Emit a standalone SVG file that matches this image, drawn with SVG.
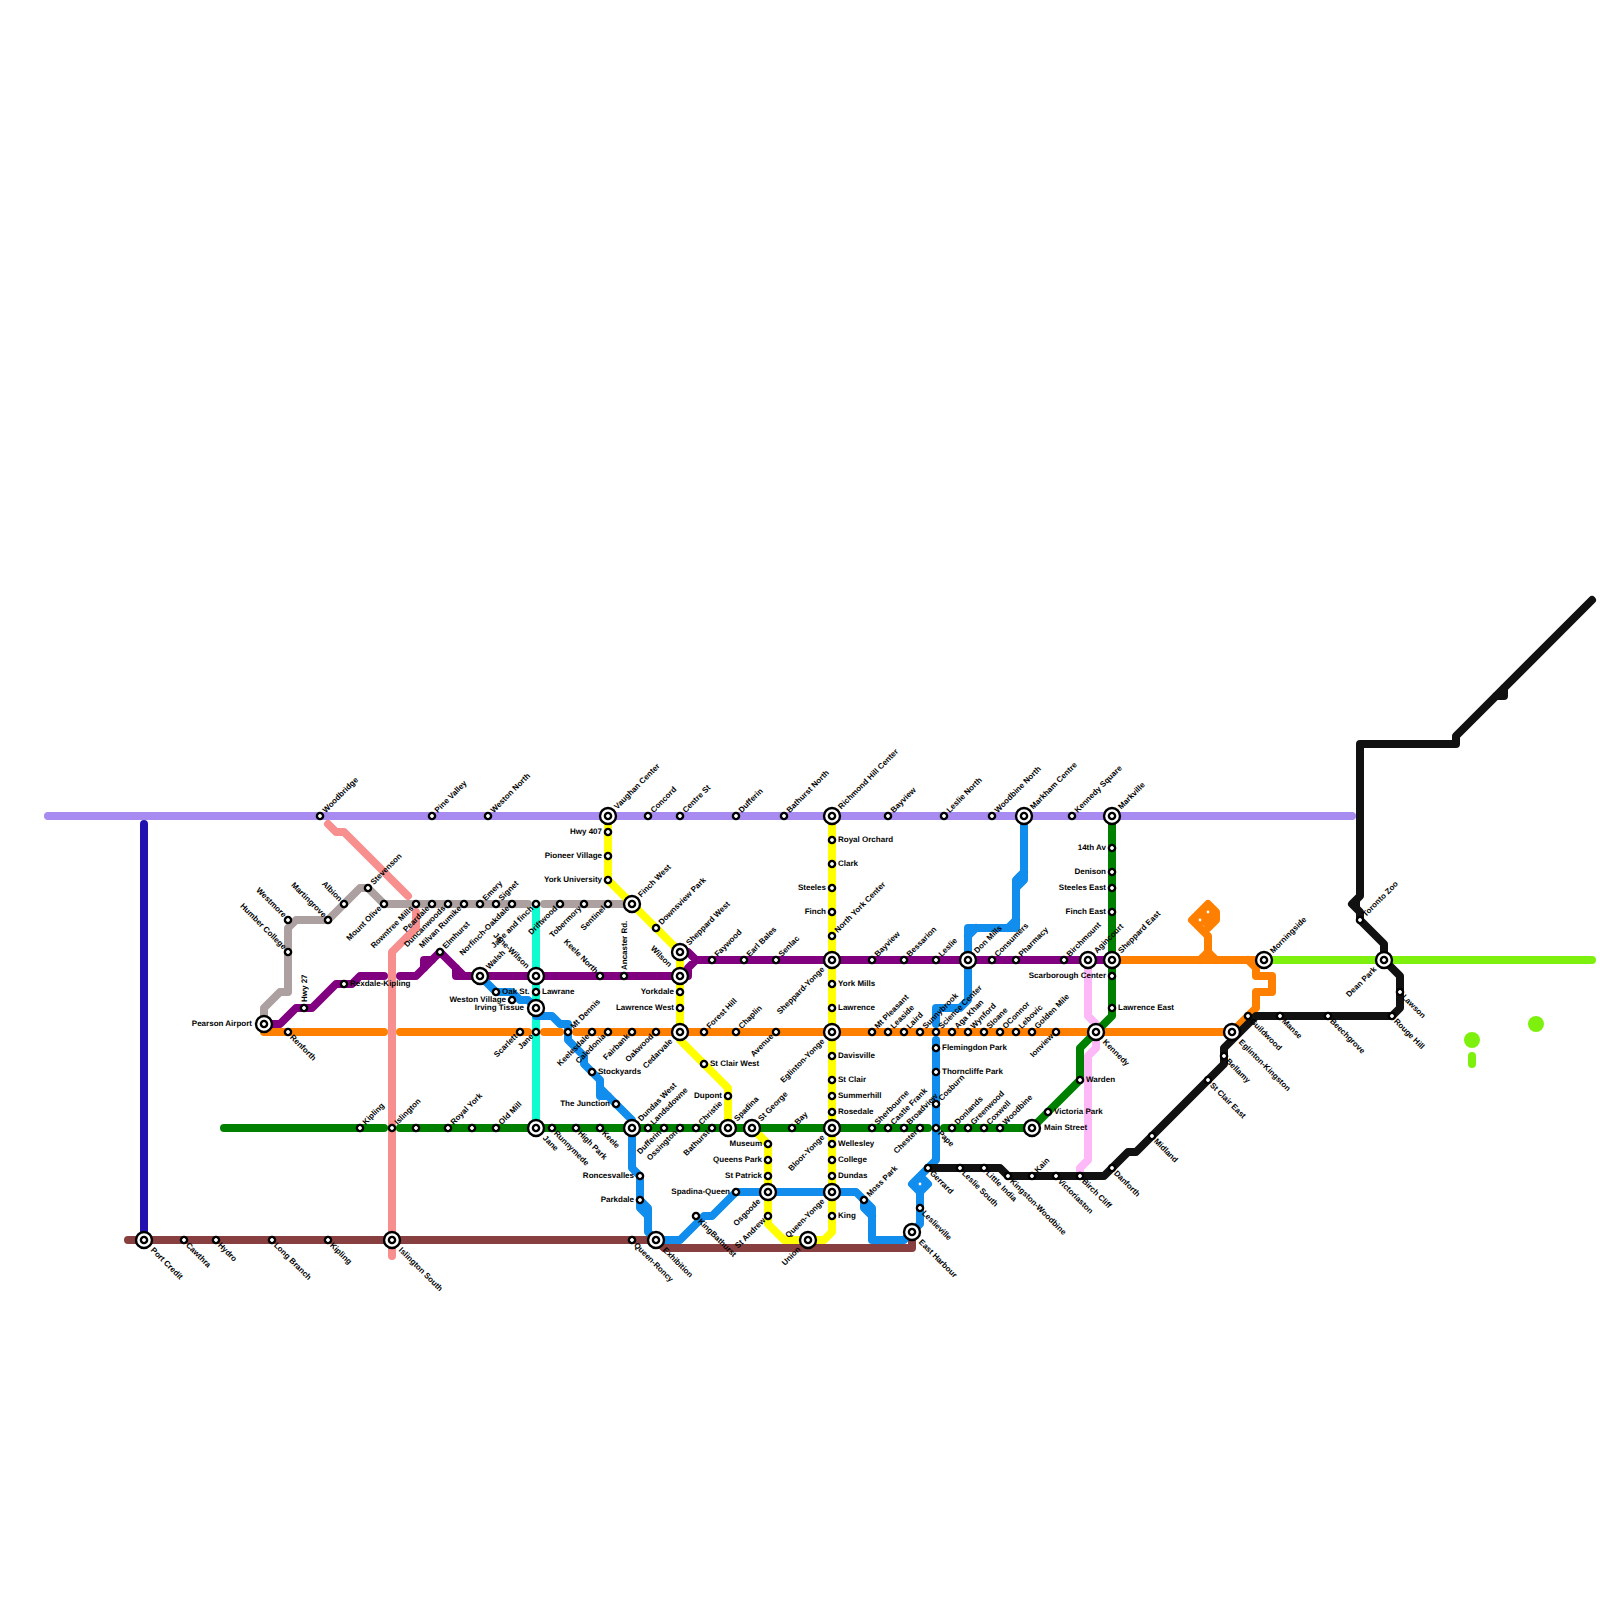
<svg xmlns="http://www.w3.org/2000/svg" width="1600" height="1600" viewBox="0 0 1600 1600">
<style>
.l{fill:none;stroke-width:8;stroke-linecap:round;stroke-linejoin:round}
.t{font:bold 8px "Liberation Sans",Arial,sans-serif;fill:#000;text-rendering:geometricPrecision}
.e{text-anchor:end}
.ring{fill:#fff;stroke:#000;stroke-width:2.4}
.lav{stroke:#a78bf0}.ind{stroke:#2212b0}.bro{stroke:#883f3f}.tea{stroke:#0ffbd0}.sal{stroke:#f78f8f}.pnk{stroke:#fdb8f8}.gry{stroke:#aca0a0}.pur{stroke:#800080}.ora{stroke:#ff8000}.grn{stroke:#008000}.yel{stroke:#ffff00}.blu{stroke:#118ded}.blk{stroke:#111}.lim{stroke:#7ef00e}
</style>
<defs>
<circle id="s" class="ring" r="3.1"/>
<g id="x"><circle class="ring" r="8"/><circle class="ring" r="3.1"/></g>
</defs>
<g id="connectors">
<path class="l lav" d="M48 816H1352"/>
<path class="l ind" d="M144 824V1240"/>
<path class="l lim" d="M1264 960H1592M1472 1056V1064"/>
<path class="l sal" d="M328 824L336 832H344L408 896M416 912V928L392 952V1256"/>
<path class="l tea" d="M536 904V1128"/>
<path class="l pnk" d="M1088 960V1016L1096 1024V1048L1088 1056V1160L1080 1168V1176"/>
<path class="l gry" d="M264 1024V1008L280 992H288V928L296 920H328L360 888H368L384 904H528M544 904H632"/>
<path class="l bro" d="M128 1240H656L664 1248H912V1232"/>
<path class="l yel" d="M608 816V880L680 952V1040L728 1088V1128"/>
<path class="l yel" d="M752 1128L768 1144V1224L784 1240H824L832 1232V816"/>
<path class="l pur" d="M264 1024H280L296 1008H312L336 984H352L360 976H384M400 976H416L440 952L464 976H688V968L696 960L688 952H680M696 960H1112M424 968V960H432M456 968V976H464"/>
<path class="l ora" d="M264 1032H384M400 1032H528M544 1032H560M576 1032H1232L1256 1008V992H1272V976H1256V968L1248 960M1112 960H1264M1200 960L1208 952L1216 960M1208 960V936L1192 920L1208 904L1216 912V920L1208 928"/>
<path d="M1192 920L1208 904L1216 912V920L1208 928Z" fill="#ff8000"/>
<path class="l grn" d="M224 1128H384M400 1128H928M944 1128H1032L1080 1080V1048L1112 1016V816"/>
<path class="l blu" d="M1024 816V880L1016 888V928H968V1000L960 1008H936V1024M936 1040V1160L912 1184L920 1192V1224L912 1232M920 1176L928 1184L920 1192M1016 920L1008 928M976 928L968 936M1024 872L1016 880V888"/>
<path d="M920 1176L928 1184L920 1192L912 1184Z" fill="#118ded"/>
<path class="l blu" d="M480 976L496 992H512L520 1000H528L536 1008V1016H552L560 1024H568V1040L584 1056V1064L600 1080V1088L632 1120V1168L640 1176V1208L648 1216V1232L656 1240H680L704 1216H712L736 1192H856L864 1200L872 1208V1240H904L912 1232M864 1200V1208L872 1216M600 1088V1096H608M640 1200L648 1208V1216"/>
<path class="l blk" d="M928 1168H1000L1008 1176H1104L1128 1152H1136L1224 1064V1048L1256 1016H1392L1400 1008V976L1384 960V944L1360 920V912L1352 904L1360 896V744H1456V736L1592 600M1496 696H1504V688"/>
<path d="M1360 896L1352 904L1360 912Z" fill="#111"/>
<circle cx="1472" cy="1040" r="8" fill="#7ef00e"/>
<circle cx="1536" cy="1024" r="8" fill="#7ef00e"/>
<circle cx="1208" cy="912" r="1.4" fill="#fff"/>
<circle cx="1200" cy="920" r="1.4" fill="#fff"/>
<circle cx="920" cy="1184" r="1.4" fill="#fff"/>
</g>
<g id="stations">
<g id="n1"><use href="#s" x="320" y="816"/><text class="t" transform="translate(320 816) rotate(-45)" x="6" y="2">Woodbridge</text></g>
<g id="n2"><use href="#s" x="432" y="816"/><text class="t" transform="translate(432 816) rotate(-45)" x="6" y="2">Pine Valley</text></g>
<g id="n3"><use href="#s" x="488" y="816"/><text class="t" transform="translate(488 816) rotate(-45)" x="6" y="2">Weston North</text></g>
<g id="n4"><use href="#x" x="608" y="816"/><text class="t" transform="translate(608 816) rotate(-45)" x="11" y="2">Vaughan Center</text></g>
<g id="n5"><use href="#s" x="648" y="816"/><text class="t" transform="translate(648 816) rotate(-45)" x="6" y="2">Concord</text></g>
<g id="n6"><use href="#s" x="680" y="816"/><text class="t" transform="translate(680 816) rotate(-45)" x="6" y="2">Centre St</text></g>
<g id="n7"><use href="#s" x="736" y="816"/><text class="t" transform="translate(736 816) rotate(-45)" x="6" y="2">Dufferin</text></g>
<g id="n8"><use href="#s" x="784" y="816"/><text class="t" transform="translate(784 816) rotate(-45)" x="6" y="2">Bathurst North</text></g>
<g id="n9"><use href="#x" x="832" y="816"/><text class="t" transform="translate(832 816) rotate(-45)" x="11" y="2">Richmond Hill Center</text></g>
<g id="n10"><use href="#s" x="888" y="816"/><text class="t" transform="translate(888 816) rotate(-45)" x="6" y="2">Bayview</text></g>
<g id="n11"><use href="#s" x="944" y="816"/><text class="t" transform="translate(944 816) rotate(-45)" x="6" y="2">Leslie North</text></g>
<g id="n12"><use href="#s" x="992" y="816"/><text class="t" transform="translate(992 816) rotate(-45)" x="6" y="2">Woodbine North</text></g>
<g id="n13"><use href="#x" x="1024" y="816"/><text class="t" transform="translate(1024 816) rotate(-45)" x="11" y="2">Markham Centre</text></g>
<g id="n14"><use href="#s" x="1072" y="816"/><text class="t" transform="translate(1072 816) rotate(-45)" x="6" y="2">Kennedy Square</text></g>
<g id="n15"><use href="#x" x="1112" y="816"/><text class="t" transform="translate(1112 816) rotate(-45)" x="11" y="2">Markville</text></g>
<g id="n16"><use href="#s" x="288" y="920"/><text class="t e" transform="translate(288 920) rotate(45)" x="-5" y="2">Westmore</text></g>
<g id="n17"><use href="#s" x="288" y="952"/><text class="t e" transform="translate(288 952) rotate(45)" x="-5" y="2">Humber College</text></g>
<g id="n18"><use href="#s" x="328" y="920"/><text class="t e" transform="translate(328 920) rotate(45)" x="-5" y="2">Martingrove</text></g>
<g id="n19"><use href="#s" x="344" y="904"/><text class="t e" transform="translate(344 904) rotate(45)" x="-5" y="2">Albion</text></g>
<g id="n20"><use href="#s" x="368" y="888"/><text class="t" transform="translate(368 888) rotate(-45)" x="6" y="2">Stevenson</text></g>
<g id="n21"><use href="#s" x="384" y="904"/><text class="t e" transform="translate(384 904) rotate(-45)" x="-5" y="2">Mount Olive</text></g>
<g id="n22"><use href="#s" x="416" y="904"/><text class="t e" transform="translate(416 904) rotate(-45)" x="-5" y="2">Rowntree Mills</text></g>
<g id="n23"><use href="#s" x="432" y="904"/><text class="t e" transform="translate(432 904) rotate(-45)" x="-5" y="2">Peardale</text></g>
<g id="n24"><use href="#s" x="448" y="904"/><text class="t e" transform="translate(448 904) rotate(-45)" x="-5" y="2">Duncanwoods</text></g>
<g id="n25"><use href="#s" x="464" y="904"/><text class="t e" transform="translate(464 904) rotate(-45)" x="-5" y="2">Milvan Rumike</text></g>
<g id="n26"><use href="#s" x="480" y="904"/><text class="t" transform="translate(480 904) rotate(-45)" x="6" y="2">Emery</text></g>
<g id="n27"><use href="#s" x="496" y="904"/><text class="t" transform="translate(496 904) rotate(-45)" x="6" y="2">Signet</text></g>
<g id="n28"><use href="#s" x="512" y="904"/><text class="t e" transform="translate(512 904) rotate(-45)" x="-5" y="2">Norfinch-Oakdale</text></g>
<g id="n29"><use href="#s" x="536" y="904"/><text class="t e" transform="translate(536 904) rotate(-45)" x="-5" y="2">Jane and finch</text></g>
<g id="n30"><use href="#s" x="560" y="904"/><text class="t e" transform="translate(560 904) rotate(-45)" x="-5" y="2">Driftwood</text></g>
<g id="n31"><use href="#s" x="584" y="904"/><text class="t e" transform="translate(584 904) rotate(-45)" x="-5" y="2">Tobermory</text></g>
<g id="n32"><use href="#s" x="608" y="904"/><text class="t e" transform="translate(608 904) rotate(-45)" x="-5" y="2">Sentinel</text></g>
<g id="n33"><use href="#x" x="632" y="904"/><text class="t" transform="translate(632 904) rotate(-45)" x="11" y="2">Finch West</text></g>
<g id="n34"><use href="#s" x="608" y="832"/><text class="t e" x="602" y="834">Hwy 407</text></g>
<g id="n35"><use href="#s" x="608" y="856"/><text class="t e" x="602" y="858">Pioneer Village</text></g>
<g id="n36"><use href="#s" x="608" y="880"/><text class="t e" x="602" y="882">York University</text></g>
<g id="n37"><use href="#s" x="656" y="928"/><text class="t" transform="translate(656 928) rotate(-45)" x="6" y="2">Downsview Park</text></g>
<g id="n38"><use href="#x" x="680" y="952"/><text class="t" transform="translate(680 952) rotate(-45)" x="11" y="2">Sheppard West</text></g>
<g id="n39"><use href="#x" x="680" y="976"/><text class="t e" transform="translate(680 976) rotate(45)" x="-14" y="2">Wilson</text></g>
<g id="n40"><use href="#s" x="680" y="992"/><text class="t e" x="674" y="994">Yorkdale</text></g>
<g id="n41"><use href="#s" x="680" y="1008"/><text class="t e" x="674" y="1010">Lawrence West</text></g>
<g id="n42"><use href="#x" x="680" y="1032"/><text class="t e" transform="translate(680 1032) rotate(-45)" x="-12" y="2">Cedarvale</text></g>
<g id="n43"><use href="#s" x="704" y="1064"/><text class="t" x="710" y="1066">St Clair West</text></g>
<g id="n44"><use href="#s" x="728" y="1096"/><text class="t e" x="722" y="1098">Dupont</text></g>
<g id="n45"><use href="#x" x="728" y="1128"/><text class="t" transform="translate(728 1128) rotate(-45)" x="11" y="2">Spadina</text></g>
<g id="n46"><use href="#x" x="752" y="1128"/><text class="t" transform="translate(752 1128) rotate(-45)" x="11" y="2">St George</text></g>
<g id="n47"><use href="#s" x="768" y="1144"/><text class="t e" x="762" y="1146">Museum</text></g>
<g id="n48"><use href="#s" x="768" y="1160"/><text class="t e" x="762" y="1162">Queens Park</text></g>
<g id="n49"><use href="#s" x="768" y="1176"/><text class="t e" x="762" y="1178">St Patrick</text></g>
<g id="n50"><use href="#x" x="768" y="1192"/><text class="t e" transform="translate(768 1192) rotate(-45)" x="-12" y="2">Osgoode</text></g>
<g id="n51"><use href="#s" x="768" y="1216"/><text class="t e" transform="translate(768 1216) rotate(-45)" x="-5" y="2">St Andrew</text></g>
<g id="n52"><use href="#x" x="808" y="1240"/><text class="t e" transform="translate(808 1240) rotate(-45)" x="-12" y="2">Union</text></g>
<g id="n53"><use href="#x" x="832" y="1192"/><text class="t e" transform="translate(832 1192) rotate(-45)" x="-12" y="2">Queen-Yonge</text></g>
<g id="n54"><use href="#s" x="832" y="1216"/><text class="t" x="838" y="1218">King</text></g>
<g id="n55"><use href="#s" x="832" y="840"/><text class="t" x="838" y="842">Royal Orchard</text></g>
<g id="n56"><use href="#s" x="832" y="864"/><text class="t" x="838" y="866">Clark</text></g>
<g id="n57"><use href="#s" x="832" y="888"/><text class="t e" x="826" y="890">Steeles</text></g>
<g id="n58"><use href="#s" x="832" y="912"/><text class="t e" x="826" y="914">Finch</text></g>
<g id="n59"><use href="#s" x="832" y="936"/><text class="t" transform="translate(832 936) rotate(-45)" x="6" y="2">North York Center</text></g>
<g id="n60"><use href="#x" x="832" y="960"/><text class="t e" transform="translate(832 960) rotate(-45)" x="-12" y="2">Sheppard-Yonge</text></g>
<g id="n61"><use href="#s" x="832" y="984"/><text class="t" x="838" y="986">York Mills</text></g>
<g id="n62"><use href="#s" x="832" y="1008"/><text class="t" x="838" y="1010">Lawrence</text></g>
<g id="n63"><use href="#x" x="832" y="1032"/><text class="t e" transform="translate(832 1032) rotate(-45)" x="-12" y="2">Eglinton-Yonge</text></g>
<g id="n64"><use href="#s" x="832" y="1056"/><text class="t" x="838" y="1058">Davisville</text></g>
<g id="n65"><use href="#s" x="832" y="1080"/><text class="t" x="838" y="1082">St Clair</text></g>
<g id="n66"><use href="#s" x="832" y="1096"/><text class="t" x="838" y="1098">Summerhill</text></g>
<g id="n67"><use href="#s" x="832" y="1112"/><text class="t" x="838" y="1114">Rosedale</text></g>
<g id="n68"><use href="#x" x="832" y="1128"/><text class="t e" transform="translate(832 1128) rotate(-45)" x="-12" y="2">Bloor-Yonge</text></g>
<g id="n69"><use href="#s" x="832" y="1144"/><text class="t" x="838" y="1146">Wellesley</text></g>
<g id="n70"><use href="#s" x="832" y="1160"/><text class="t" x="838" y="1162">College</text></g>
<g id="n71"><use href="#s" x="832" y="1176"/><text class="t" x="838" y="1178">Dundas</text></g>
<g id="n72"><use href="#x" x="264" y="1024"/><text class="t e" x="252" y="1026">Pearson Airport</text></g>
<g id="n73"><use href="#s" x="304" y="1008"/><text class="t" transform="translate(304 1008) rotate(-90)" x="6" y="3">Hwy 27</text></g>
<g id="n74"><use href="#s" x="344" y="984"/><text class="t" x="350" y="986">Rexdale-Kipling</text></g>
<g id="n75"><use href="#s" x="440" y="952"/><text class="t" transform="translate(440 952) rotate(-45)" x="6" y="2">Elmhurst</text></g>
<g id="n76"><use href="#x" x="480" y="976"/><text class="t" transform="translate(480 976) rotate(-45)" x="11" y="2">Walsh</text></g>
<g id="n77"><use href="#x" x="536" y="976"/><text class="t e" transform="translate(536 976) rotate(45)" x="-12" y="2">Jane-Wilson</text></g>
<g id="n78"><use href="#s" x="600" y="976"/><text class="t e" transform="translate(600 976) rotate(45)" x="-5" y="2">Keele North</text></g>
<g id="n79"><use href="#s" x="624" y="976"/><text class="t" transform="translate(624 976) rotate(-90)" x="6" y="3">Ancaster Rd.</text></g>
<g id="n80"><use href="#s" x="712" y="960"/><text class="t" transform="translate(712 960) rotate(-45)" x="6" y="2">Faywood</text></g>
<g id="n81"><use href="#s" x="744" y="960"/><text class="t" transform="translate(744 960) rotate(-45)" x="6" y="2">Earl Bales</text></g>
<g id="n82"><use href="#s" x="776" y="960"/><text class="t" transform="translate(776 960) rotate(-45)" x="6" y="2">Senlac</text></g>
<g id="n83"><use href="#s" x="872" y="960"/><text class="t" transform="translate(872 960) rotate(-45)" x="6" y="2">Bayview</text></g>
<g id="n84"><use href="#s" x="904" y="960"/><text class="t" transform="translate(904 960) rotate(-45)" x="6" y="2">Bessarion</text></g>
<g id="n85"><use href="#s" x="936" y="960"/><text class="t" transform="translate(936 960) rotate(-45)" x="6" y="2">Leslie</text></g>
<g id="n86"><use href="#x" x="968" y="960"/><text class="t" transform="translate(968 960) rotate(-45)" x="11" y="2">Don Mills</text></g>
<g id="n87"><use href="#s" x="992" y="960"/><text class="t" transform="translate(992 960) rotate(-45)" x="6" y="2">Consumers</text></g>
<g id="n88"><use href="#s" x="1016" y="960"/><text class="t" transform="translate(1016 960) rotate(-45)" x="6" y="2">Pharmacy</text></g>
<g id="n89"><use href="#s" x="1064" y="960"/><text class="t" transform="translate(1064 960) rotate(-45)" x="6" y="2">Birchmount</text></g>
<g id="n90"><use href="#x" x="1088" y="960"/><text class="t" transform="translate(1088 960) rotate(-45)" x="11" y="2">Agincourt</text></g>
<g id="n91"><use href="#x" x="1112" y="960"/><text class="t" transform="translate(1112 960) rotate(-45)" x="11" y="2">Sheppard East</text></g>
<g id="n92"><use href="#s" x="1112" y="848"/><text class="t e" x="1106" y="850">14th Av</text></g>
<g id="n93"><use href="#s" x="1112" y="872"/><text class="t e" x="1106" y="874">Denison</text></g>
<g id="n94"><use href="#s" x="1112" y="888"/><text class="t e" x="1106" y="890">Steeles East</text></g>
<g id="n95"><use href="#s" x="1112" y="912"/><text class="t e" x="1106" y="914">Finch East</text></g>
<g id="n96"><use href="#s" x="1112" y="976"/><text class="t e" x="1106" y="978">Scarborough Center</text></g>
<g id="n97"><use href="#s" x="1112" y="1008"/><text class="t" x="1118" y="1010">Lawrence East</text></g>
<g id="n98"><use href="#s" x="288" y="1032"/><text class="t" transform="translate(288 1032) rotate(45)" x="5" y="3">Renforth</text></g>
<g id="n99"><use href="#s" x="520" y="1032"/><text class="t e" transform="translate(520 1032) rotate(-45)" x="-5" y="2">Scarlett</text></g>
<g id="n100"><use href="#s" x="536" y="1032"/><text class="t e" transform="translate(536 1032) rotate(-45)" x="-5" y="2">Jane</text></g>
<g id="n101"><use href="#s" x="568" y="1032"/><text class="t" transform="translate(568 1032) rotate(-45)" x="6" y="2">Mt Dennis</text></g>
<g id="n102"><use href="#s" x="592" y="1032"/><text class="t e" transform="translate(592 1032) rotate(-45)" x="-5" y="2">Keelesdale</text></g>
<g id="n103"><use href="#s" x="608" y="1032"/><text class="t e" transform="translate(608 1032) rotate(-45)" x="-5" y="2">Caledonia</text></g>
<g id="n104"><use href="#s" x="632" y="1032"/><text class="t e" transform="translate(632 1032) rotate(-45)" x="-5" y="2">Fairbank</text></g>
<g id="n105"><use href="#s" x="656" y="1032"/><text class="t e" transform="translate(656 1032) rotate(-45)" x="-5" y="2">Oakwood</text></g>
<g id="n106"><use href="#s" x="704" y="1032"/><text class="t" transform="translate(704 1032) rotate(-45)" x="6" y="2">Forest Hill</text></g>
<g id="n107"><use href="#s" x="736" y="1032"/><text class="t" transform="translate(736 1032) rotate(-45)" x="6" y="2">Chaplin</text></g>
<g id="n108"><use href="#s" x="776" y="1032"/><text class="t e" transform="translate(776 1032) rotate(-45)" x="-5" y="2">Avenue</text></g>
<g id="n109"><use href="#s" x="872" y="1032"/><text class="t" transform="translate(872 1032) rotate(-45)" x="6" y="2">Mt Pleasant</text></g>
<g id="n110"><use href="#s" x="888" y="1032"/><text class="t" transform="translate(888 1032) rotate(-45)" x="6" y="2">Leaside</text></g>
<g id="n111"><use href="#s" x="904" y="1032"/><text class="t" transform="translate(904 1032) rotate(-45)" x="6" y="2">Laird</text></g>
<g id="n112"><use href="#s" x="920" y="1032"/><text class="t" transform="translate(920 1032) rotate(-45)" x="6" y="2">Sunnybrook</text></g>
<g id="n113"><use href="#s" x="936" y="1032"/><text class="t" transform="translate(936 1032) rotate(-45)" x="6" y="2">Science Center</text></g>
<g id="n114"><use href="#s" x="952" y="1032"/><text class="t" transform="translate(952 1032) rotate(-45)" x="6" y="2">Aga Khan</text></g>
<g id="n115"><use href="#s" x="968" y="1032"/><text class="t" transform="translate(968 1032) rotate(-45)" x="6" y="2">Wynford</text></g>
<g id="n116"><use href="#s" x="984" y="1032"/><text class="t" transform="translate(984 1032) rotate(-45)" x="6" y="2">Sloane</text></g>
<g id="n117"><use href="#s" x="1000" y="1032"/><text class="t" transform="translate(1000 1032) rotate(-45)" x="6" y="2">OConnor</text></g>
<g id="n118"><use href="#s" x="1016" y="1032"/><text class="t" transform="translate(1016 1032) rotate(-45)" x="6" y="2">Lebovic</text></g>
<g id="n119"><use href="#s" x="1032" y="1032"/><text class="t" transform="translate(1032 1032) rotate(-45)" x="6" y="2">Golden Mile</text></g>
<g id="n120"><use href="#s" x="1056" y="1032"/><text class="t e" transform="translate(1056 1032) rotate(-45)" x="-5" y="2">Ionview</text></g>
<g id="n121"><use href="#x" x="1096" y="1032"/><text class="t" transform="translate(1096 1032) rotate(45)" x="12" y="3">Kennedy</text></g>
<g id="n122"><use href="#x" x="1232" y="1032"/><text class="t" transform="translate(1232 1032) rotate(45)" x="12" y="3">Eglinton-Kingston</text></g>
<g id="n123"><use href="#x" x="1264" y="960"/><text class="t" transform="translate(1264 960) rotate(-45)" x="11" y="2">Morningside</text></g>
<g id="n124"><use href="#s" x="936" y="1048"/><text class="t" x="942" y="1050">Flemingdon Park</text></g>
<g id="n125"><use href="#s" x="936" y="1072"/><text class="t" x="942" y="1074">Thorncliffe Park</text></g>
<g id="n126"><use href="#s" x="936" y="1104"/><text class="t" transform="translate(936 1104) rotate(-45)" x="6" y="2">Cosburn</text></g>
<g id="n127"><use href="#s" x="360" y="1128"/><text class="t" transform="translate(360 1128) rotate(-45)" x="6" y="2">Kipling</text></g>
<g id="n128"><use href="#s" x="392" y="1128"/><text class="t" transform="translate(392 1128) rotate(-45)" x="6" y="2">Islington</text></g>
<g id="n129"><use href="#s" x="416" y="1128"/></g>
<g id="n130"><use href="#s" x="448" y="1128"/><text class="t" transform="translate(448 1128) rotate(-45)" x="6" y="2">Royal York</text></g>
<g id="n131"><use href="#s" x="472" y="1128"/></g>
<g id="n132"><use href="#s" x="496" y="1128"/><text class="t" transform="translate(496 1128) rotate(-45)" x="6" y="2">Old Mill</text></g>
<g id="n133"><use href="#x" x="536" y="1128"/><text class="t" transform="translate(536 1128) rotate(45)" x="12" y="3">Jane</text></g>
<g id="n134"><use href="#s" x="552" y="1128"/><text class="t" transform="translate(552 1128) rotate(45)" x="5" y="3">Runnymede</text></g>
<g id="n135"><use href="#s" x="576" y="1128"/><text class="t" transform="translate(576 1128) rotate(45)" x="5" y="3">High Park</text></g>
<g id="n136"><use href="#s" x="600" y="1128"/><text class="t" transform="translate(600 1128) rotate(45)" x="5" y="3">Keele</text></g>
<g id="n137"><use href="#x" x="632" y="1128"/><text class="t" transform="translate(632 1128) rotate(-45)" x="11" y="2">Dundas West</text></g>
<g id="n138"><use href="#s" x="648" y="1128"/><text class="t" transform="translate(648 1128) rotate(-45)" x="6" y="2">Landsdowne</text></g>
<g id="n139"><use href="#s" x="664" y="1128"/><text class="t e" transform="translate(664 1128) rotate(-45)" x="-5" y="2">Dufferin</text></g>
<g id="n140"><use href="#s" x="680" y="1128"/><text class="t e" transform="translate(680 1128) rotate(-45)" x="-5" y="2">Ossington</text></g>
<g id="n141"><use href="#s" x="696" y="1128"/><text class="t" transform="translate(696 1128) rotate(-45)" x="6" y="2">Christie</text></g>
<g id="n142"><use href="#s" x="712" y="1128"/><text class="t e" transform="translate(712 1128) rotate(-45)" x="-5" y="2">Bathurst</text></g>
<g id="n143"><use href="#s" x="792" y="1128"/><text class="t" transform="translate(792 1128) rotate(-45)" x="6" y="2">Bay</text></g>
<g id="n144"><use href="#s" x="872" y="1128"/><text class="t" transform="translate(872 1128) rotate(-45)" x="6" y="2">Sherbourne</text></g>
<g id="n145"><use href="#s" x="888" y="1128"/><text class="t" transform="translate(888 1128) rotate(-45)" x="6" y="2">Castle Frank</text></g>
<g id="n146"><use href="#s" x="904" y="1128"/><text class="t" transform="translate(904 1128) rotate(-45)" x="6" y="2">Broadview</text></g>
<g id="n147"><use href="#s" x="920" y="1128"/><text class="t e" transform="translate(920 1128) rotate(-45)" x="-5" y="2">Chester</text></g>
<g id="n148"><use href="#s" x="936" y="1128"/><text class="t" transform="translate(936 1128) rotate(45)" x="5" y="3">Pape</text></g>
<g id="n149"><use href="#s" x="952" y="1128"/><text class="t" transform="translate(952 1128) rotate(-45)" x="6" y="2">Donlands</text></g>
<g id="n150"><use href="#s" x="968" y="1128"/><text class="t" transform="translate(968 1128) rotate(-45)" x="6" y="2">Greenwood</text></g>
<g id="n151"><use href="#s" x="984" y="1128"/><text class="t" transform="translate(984 1128) rotate(-45)" x="6" y="2">Coxwell</text></g>
<g id="n152"><use href="#s" x="1000" y="1128"/><text class="t" transform="translate(1000 1128) rotate(-45)" x="6" y="2">Woodbine</text></g>
<g id="n153"><use href="#x" x="1032" y="1128"/><text class="t" x="1044" y="1130">Main Street</text></g>
<g id="n154"><use href="#s" x="1048" y="1112"/><text class="t" x="1054" y="1114">Victoria Park</text></g>
<g id="n155"><use href="#s" x="1080" y="1080"/><text class="t" x="1086" y="1082">Warden</text></g>
<g id="n156"><use href="#x" x="536" y="1008"/><text class="t e" x="524" y="1010">Irving Tissue</text></g>
<g id="n157"><use href="#s" x="536" y="992"/><text class="t" x="542" y="994">Lawrane</text></g>
<g id="n158"><use href="#s" x="496" y="992"/><text class="t" x="502" y="994">Oak St.</text></g>
<g id="n159"><use href="#s" x="512" y="1000"/><text class="t e" x="506" y="1002">Weston Village</text></g>
<g id="n160"><use href="#s" x="592" y="1072"/><text class="t" x="598" y="1074">Stockyards</text></g>
<g id="n161"><use href="#s" x="616" y="1104"/><text class="t e" x="610" y="1106">The Junction</text></g>
<g id="n162"><use href="#s" x="640" y="1176"/><text class="t e" x="634" y="1178">Roncesvalles</text></g>
<g id="n163"><use href="#s" x="640" y="1200"/><text class="t e" x="634" y="1202">Parkdale</text></g>
<g id="n164"><use href="#x" x="656" y="1240"/><text class="t" transform="translate(656 1240) rotate(45)" x="12" y="3">Exhibition</text></g>
<g id="n165"><use href="#s" x="632" y="1240"/><text class="t" transform="translate(632 1240) rotate(45)" x="5" y="3">Queen-Roncy</text></g>
<g id="n166"><use href="#s" x="696" y="1216"/><text class="t" transform="translate(696 1216) rotate(45)" x="5" y="3">KingBathurst</text></g>
<g id="n167"><use href="#s" x="736" y="1192"/><text class="t e" x="730" y="1194">Spadina-Queen</text></g>
<g id="n168"><use href="#s" x="864" y="1200"/><text class="t" transform="translate(864 1200) rotate(-45)" x="6" y="2">Moss Park</text></g>
<g id="n169"><use href="#x" x="912" y="1232"/><text class="t" transform="translate(912 1232) rotate(45)" x="12" y="3">East Harbour</text></g>
<g id="n170"><use href="#s" x="920" y="1208"/><text class="t" transform="translate(920 1208) rotate(45)" x="5" y="3">Leslieville</text></g>
<g id="n171"><use href="#s" x="928" y="1168"/><text class="t" transform="translate(928 1168) rotate(45)" x="5" y="3">Gerrard</text></g>
<g id="n172"><use href="#s" x="960" y="1168"/><text class="t" transform="translate(960 1168) rotate(45)" x="5" y="3">Leslie South</text></g>
<g id="n173"><use href="#s" x="984" y="1168"/><text class="t" transform="translate(984 1168) rotate(45)" x="5" y="3">Little India</text></g>
<g id="n174"><use href="#s" x="1008" y="1176"/><text class="t" transform="translate(1008 1176) rotate(45)" x="5" y="3">Kingston-Woodbine</text></g>
<g id="n175"><use href="#s" x="1032" y="1176"/><text class="t" transform="translate(1032 1176) rotate(-45)" x="6" y="2">Kain</text></g>
<g id="n176"><use href="#s" x="1056" y="1176"/><text class="t" transform="translate(1056 1176) rotate(45)" x="5" y="3">Victoriaston</text></g>
<g id="n177"><use href="#s" x="1080" y="1176"/><text class="t" transform="translate(1080 1176) rotate(45)" x="5" y="3">Birch Cliff</text></g>
<g id="n178"><use href="#s" x="1112" y="1168"/><text class="t" transform="translate(1112 1168) rotate(45)" x="5" y="3">Danforth</text></g>
<g id="n179"><use href="#s" x="1152" y="1136"/><text class="t" transform="translate(1152 1136) rotate(45)" x="5" y="3">Midland</text></g>
<g id="n180"><use href="#s" x="1208" y="1080"/><text class="t" transform="translate(1208 1080) rotate(45)" x="5" y="3">St Clair East</text></g>
<g id="n181"><use href="#s" x="1224" y="1056"/><text class="t" transform="translate(1224 1056) rotate(45)" x="5" y="3">Bellamy</text></g>
<g id="n182"><use href="#s" x="1248" y="1016"/><text class="t" transform="translate(1248 1016) rotate(45)" x="5" y="3">Guildwood</text></g>
<g id="n183"><use href="#s" x="1280" y="1016"/><text class="t" transform="translate(1280 1016) rotate(45)" x="5" y="3">Manse</text></g>
<g id="n184"><use href="#s" x="1328" y="1016"/><text class="t" transform="translate(1328 1016) rotate(45)" x="5" y="3">Beechgrove</text></g>
<g id="n185"><use href="#s" x="1392" y="1016"/><text class="t" transform="translate(1392 1016) rotate(45)" x="5" y="3">Rouge Hill</text></g>
<g id="n186"><use href="#s" x="1400" y="992"/><text class="t" transform="translate(1400 992) rotate(45)" x="5" y="3">Lawson</text></g>
<g id="n187"><use href="#x" x="1384" y="960"/><text class="t e" transform="translate(1384 960) rotate(-45)" x="-12" y="2">Dean Park</text></g>
<g id="n188"><use href="#s" x="1360" y="920"/><text class="t" transform="translate(1360 920) rotate(-45)" x="6" y="2">Toronto Zoo</text></g>
<g id="n189"><use href="#x" x="144" y="1240"/><text class="t" transform="translate(144 1240) rotate(45)" x="12" y="3">Port Credit</text></g>
<g id="n190"><use href="#s" x="184" y="1240"/><text class="t" transform="translate(184 1240) rotate(45)" x="5" y="3">Cawthra</text></g>
<g id="n191"><use href="#s" x="216" y="1240"/><text class="t" transform="translate(216 1240) rotate(45)" x="5" y="3">Hydro</text></g>
<g id="n192"><use href="#s" x="272" y="1240"/><text class="t" transform="translate(272 1240) rotate(45)" x="5" y="3">Long Branch</text></g>
<g id="n193"><use href="#s" x="328" y="1240"/><text class="t" transform="translate(328 1240) rotate(45)" x="5" y="3">Kipling</text></g>
<g id="n194"><use href="#x" x="392" y="1240"/><text class="t" transform="translate(392 1240) rotate(45)" x="12" y="3">Islington South</text></g>
</g>
</svg>
